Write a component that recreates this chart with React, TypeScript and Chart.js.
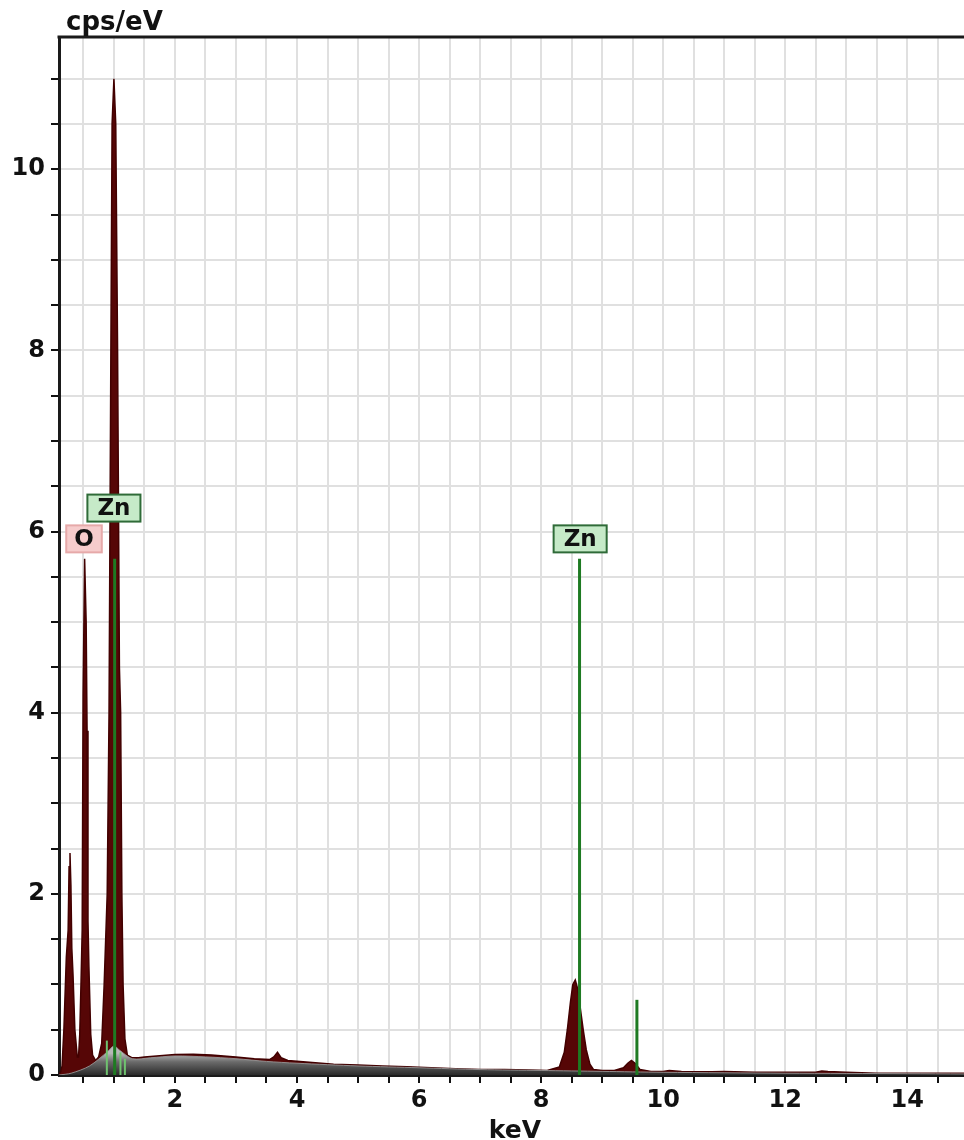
import React, { useEffect, useRef } from 'react';
import { Chart, registerables } from 'chart.js';

Chart.register(...registerables);

// Measured spectrum (keV, cps/eV)
const specEnergy = [
  0.10, 0.13, 0.15, 0.18, 0.22, 0.25, 0.265, 0.28, 0.295, 0.31, 0.33, 0.36, 0.40,
  0.42, 0.44, 0.46, 0.48, 0.495, 0.52, 0.545, 0.56, 0.575, 0.59, 0.62, 0.65, 0.70,
  0.75, 0.80, 0.84, 0.89, 0.92, 0.95, 0.97, 1.00, 1.03, 1.06, 1.09, 1.11, 1.13, 1.15,
  1.18, 1.22, 1.30, 1.40, 1.50, 1.70, 2.00, 2.30, 2.60,
  3.00, 3.30, 3.55, 3.62, 3.68, 3.74, 3.85, 4.20, 4.60, 5.00, 5.40, 5.80, 6.20, 6.60,
  7.00, 7.40, 7.80, 8.10, 8.30, 8.38, 8.43, 8.48, 8.52, 8.56, 8.60, 8.64, 8.69, 8.74,
  8.80, 8.86, 9.00, 9.20, 9.35, 9.42, 9.48, 9.54, 9.62, 9.80, 10.00, 10.10, 10.30,
  10.80, 11.00, 11.50, 12.00, 12.50, 12.60, 12.70, 13.00, 13.50, 14.00, 14.93,
];
const specCounts = [
  0.00, 0.04, 0.10, 0.50, 1.30, 1.60, 2.30, 2.45, 2.10, 1.40, 1.10, 0.50, 0.20,
  0.20, 0.45, 1.00, 1.60, 4.20, 5.70, 5.00, 3.80, 1.70, 1.20, 0.45, 0.22, 0.16,
  0.20, 0.35, 1.00, 2.00, 4.00, 8.00, 10.50, 11.00, 10.50, 8.00, 4.50, 4.00, 2.00, 1.00,
  0.40, 0.22, 0.19, 0.19, 0.20, 0.21, 0.225, 0.23, 0.22,
  0.20, 0.18, 0.17, 0.20, 0.25, 0.19, 0.16, 0.14, 0.12, 0.11, 0.10, 0.09, 0.08, 0.07,
  0.06, 0.06, 0.055, 0.05, 0.09, 0.25, 0.50, 0.80, 1.00, 1.05, 0.95, 0.75, 0.50, 0.28,
  0.12, 0.06, 0.05, 0.05, 0.08, 0.13, 0.16, 0.13, 0.06, 0.04, 0.04, 0.05, 0.04,
  0.035, 0.04, 0.03, 0.03, 0.03, 0.045, 0.04, 0.03, 0.02, 0.02, 0.02,
];

// Fitted background (bremsstrahlung)
const bgEnergy = [0.10, 0.30, 0.60, 0.90, 1.00, 1.10, 1.30, 1.60, 2.00, 2.50, 3.00, 3.50, 4.00, 5.00, 6.00, 7.00, 8.00, 9.00, 10.00, 12.00, 14.00, 14.93];
const bgCounts = [0.00, 0.02, 0.10, 0.26, 0.32, 0.27, 0.18, 0.19, 0.21, 0.20, 0.18, 0.15, 0.13, 0.10, 0.08, 0.06, 0.05, 0.04, 0.03, 0.02, 0.015, 0.012];

// Element line markers
const markerEnergy = [1.012, 8.63, 9.57];
const markerHeight = [5.7, 5.7, 0.83];
const minorMarkerEnergy = [0.884, 1.107, 1.18];
const minorMarkerHeight = [0.38, 0.25, 0.18];

// Peak labels
const labelText = ['O', 'Zn', 'Zn'];
const labelEnergy = [0.51, 1.0, 8.64];
const labelHeight = [5.77, 6.11, 5.77];

// Axes
const xMin = 0.1;
const xMax = 14.93;
const yMin = 0;
const yMax = 11.46;
const tickStep = 0.5;
const xTickLabels = [2, 4, 6, 8, 10, 12, 14];
const yTickLabels = [0, 2, 4, 6, 8, 10];
const xTitle = 'keV';
const yTitle = 'cps/eV';

const FONT = '"DejaVu Sans", Verdana, sans-serif';

function stepTicks(min: number, max: number) {
  const out: { value: number }[] = [];
  const start = Math.ceil(min / tickStep) * tickStep;
  for (let k = 0; start + k * tickStep <= max + 1e-9; k++) {
    out.push({ value: Math.round((start + k * tickStep) * 100) / 100 });
  }
  return out;
}

const overlayPlugin = {
  id: 'overlay',
  afterDatasetsDraw(chart: any) {
    const { ctx, chartArea, scales } = chart;
    const xs = scales.x;
    const ys = scales.y;
    ctx.save();
    // top frame line
    ctx.strokeStyle = '#1a1a1a';
    ctx.lineWidth = 3;
    ctx.beginPath();
    ctx.moveTo(chartArea.left - 1.5, chartArea.top);
    ctx.lineTo(chart.width, chartArea.top);
    ctx.stroke();

    // peak labels
    ctx.font = 'bold 23px ' + FONT;
    ctx.textAlign = 'center';
    ctx.textBaseline = 'middle';
    for (let i = 0; i < labelText.length; i++) {
      const t = labelText[i];
      const cx = xs.getPixelForValue(labelEnergy[i]);
      const by = ys.getPixelForValue(labelHeight[i]);
      const isO = t === 'O';
      const w = ctx.measureText(t).width + (isO ? 16 : 20);
      const h = 27;
      ctx.fillStyle = isO ? '#f6cccc' : '#c6eac8';
      ctx.fillRect(cx - w / 2, by - h, w, h);
      ctx.strokeStyle = isO ? '#e6a9a9' : '#2f6b38';
      ctx.lineWidth = 2;
      ctx.strokeRect(cx - w / 2, by - h, w, h);
      ctx.fillStyle = '#111';
      ctx.fillText(t, cx, by - h / 2 + 1);
    }

    // axis titles
    ctx.font = 'bold 26px ' + FONT;
    ctx.textAlign = 'left';
    ctx.textBaseline = 'alphabetic';
    ctx.fillStyle = '#111';
    ctx.fillText(yTitle, chartArea.left + 7, 30);
    ctx.font = 'bold 25px ' + FONT;
    ctx.textAlign = 'center';
    ctx.fillText(xTitle, 515, chart.height - 2);
    ctx.restore();
  },
};

export default function App() {
  const ref = useRef<HTMLCanvasElement | null>(null);

  useEffect(() => {
    if (!ref.current) return;
    const markerSets = markerEnergy.map((e, i) => ({
      type: 'line' as const,
      data: [{ x: e, y: 0 }, { x: e, y: markerHeight[i] }],
      borderColor: '#1e7a22',
      borderWidth: 3,
      pointRadius: 0,
      fill: false,
      order: 0,
    }));
    const minorSets = minorMarkerEnergy.map((e, i) => ({
      type: 'line' as const,
      data: [{ x: e, y: 0 }, { x: e, y: minorMarkerHeight[i] }],
      borderColor: '#6fc26f',
      borderWidth: 2,
      pointRadius: 0,
      fill: false,
      order: 1,
    }));

    const chart = new Chart(ref.current, {
      type: 'line',
      data: {
        datasets: [
          ...markerSets,
          ...minorSets,
          {
            data: bgEnergy.map((e, i) => ({ x: e, y: bgCounts[i] })),
            borderColor: 'rgba(150,150,150,0.9)',
            borderWidth: 1,
            pointRadius: 0,
            tension: 0.3,
            fill: 'origin',
            backgroundColor: (c: any) => {
              const ch = c.chart;
              const area = ch.chartArea;
              if (!area) return '#666';
              const top = ch.scales.y.getPixelForValue(0.24);
              const g = ch.ctx.createLinearGradient(0, top, 0, area.bottom);
              g.addColorStop(0, '#b8b8b8');
              g.addColorStop(0.4, '#6a6a6a');
              g.addColorStop(1, '#2a2a2a');
              return g;
            },
            order: 2,
          },
          {
            data: specEnergy.map((e, i) => ({ x: e, y: specCounts[i] })),
            borderColor: '#420000',
            borderWidth: 1.5,
            pointRadius: 0,
            tension: 0,
            fill: 'origin',
            backgroundColor: '#560606',
            order: 3,
          },
        ],
      },
      options: {
        responsive: false,
        animation: false,
        devicePixelRatio: 1,
        layout: { padding: { top: 37, right: 0, left: 0, bottom: 0 } },
        plugins: { legend: { display: false }, tooltip: { enabled: false } },
        scales: {
          x: {
            type: 'linear',
            min: xMin,
            max: xMax,
            afterFit: (s: any) => { s.height = 65; },
            afterBuildTicks: (s: any) => { s.ticks = stepTicks(xMin, xMax); },
            ticks: {
              autoSkip: false,
              maxRotation: 0,
              padding: 3,
              color: '#111',
              font: { family: FONT, size: 24, weight: 'bold' },
              callback: (v: any) => (xTickLabels.includes(Number(v)) ? String(v) : ''),
            },
            grid: { color: '#e0e0e0', lineWidth: 2, tickColor: '#111', tickLength: 8, tickWidth: 2 },
            border: { color: '#1a1a1a', width: 3 },
          },
          y: {
            type: 'linear',
            min: yMin,
            max: yMax,
            afterFit: (s: any) => { s.width = 59; },
            afterBuildTicks: (s: any) => { s.ticks = stepTicks(yMin, yMax); },
            ticks: {
              autoSkip: false,
              padding: 6,
              color: '#111',
              font: { family: FONT, size: 24, weight: 'bold' },
              callback: (v: any) => (yTickLabels.includes(Number(v)) ? String(v) : ''),
            },
            grid: { color: '#e0e0e0', lineWidth: 2, tickColor: '#111', tickLength: 8, tickWidth: 2 },
            border: { color: '#1a1a1a', width: 3 },
          },
        },
      },
      plugins: [overlayPlugin],
    } as any);
    return () => chart.destroy();
  }, []);

  return (
    <div style={{ position: 'absolute', left: 0, top: 0, width: 964, height: 1140, background: '#fff' }}>
      <canvas ref={ref} width={964} height={1140} style={{ display: 'block', width: 964, height: 1140 }} />
    </div>
  );
}
